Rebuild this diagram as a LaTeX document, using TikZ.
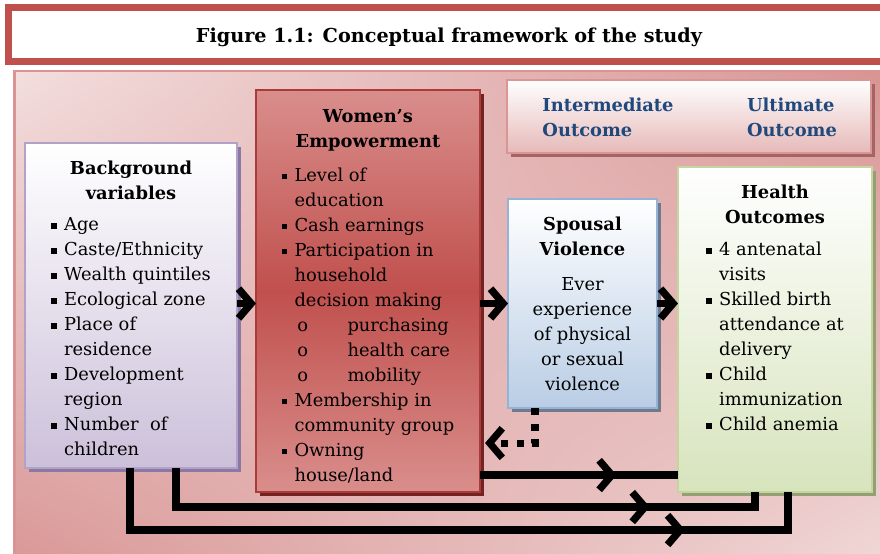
\documentclass[tikz,border=0pt]{standalone}
\usepackage{fontspec}
\setmainfont{DejaVu Serif}
\usetikzlibrary{arrows.meta,calc,shadows,shadings,decorations.markings}

\definecolor{frame}{RGB}{192,80,77}
\definecolor{panellight}{RGB}{243,222,222}
\definecolor{paneldark}{RGB}{215,146,145}
\definecolor{panelline}{RGB}{218,148,148}
\definecolor{bgbot}{RGB}{204,192,218}
\definecolor{bgline}{RGB}{178,162,199}
\definecolor{bgshadow}{RGB}{140,120,165}
\definecolor{wetop}{RGB}{217,142,140}
\definecolor{wemid}{RGB}{192,80,77}
\definecolor{weline}{RGB}{172,58,56}
\definecolor{weshadow}{RGB}{115,35,35}
\definecolor{svbot}{RGB}{185,205,229}
\definecolor{svline}{RGB}{149,179,215}
\definecolor{svshadow}{RGB}{112,122,142}
\definecolor{hobot}{RGB}{215,228,189}
\definecolor{holine}{RGB}{195,214,155}
\definecolor{hoshadow}{RGB}{150,158,118}
\definecolor{hdrbot}{RGB}{230,185,184}
\definecolor{hdrline}{RGB}{217,150,148}
\definecolor{hdrshadow}{RGB}{165,100,100}
\definecolor{navy}{RGB}{31,73,125}

% square bullet, sub item and top padding
\newcommand{\sq}{\makebox[9.2pt][l]{\rule[1.3pt]{4pt}{4pt}}}
\newcommand{\subopt}[1]{\makebox[37.7pt][l]{\hspace{2pt}o}#1}
\newcommand{\toppad}[1]{\rule{0pt}{#1}}

\tikzset{
  chev/.tip={Straight Barb[sharp, length=9pt, width=21pt]},
  box/.style={draw, line width=1pt, inner sep=0pt, outer sep=0pt, align=center,
    font=\fontsize{12.7}{17.78}\selectfont},
  link/.style={line width=5.2pt, -chev},
  midarrow/.style={line width=5.2pt, postaction={decorate},
    decoration={markings, mark=at position #1 with {\arrow{chev}}}},
  dotlink/.style={line width=5pt, dash pattern=on 5pt off 6pt, -chev},
}

\begin{document}
\begin{tikzpicture}[x=0.025cm, y=-0.025cm]
	\useasboundingbox (0,0) rectangle (880,553);
	\fill[white] (0,0) rectangle (880,553);

	% title
	\draw[frame, line width=5pt, fill=white] (8.5,7.5) rectangle (900,61.5);
	\node[font=\fontsize{13.66}{16}\selectfont\bfseries] (title) at (449,37)
		{Figure 1.1: Conceptual framework of the study};

	% panel
	\shade[upper left=panellight, upper right=paneldark, lower left=paneldark,
		lower right=panellight] (14.5,71) rectangle (900,600);
	\draw[panelline, line width=2pt] (14.5,600) -- (14.5,71) -- (900,71);

	% header
	\node[box, minimum width=9.1cm, minimum height=1.825cm, draw=hdrline,
		top color=white, bottom color=hdrbot,
		drop shadow={shadow xshift=3pt, shadow yshift=-3pt, fill=hdrshadow, opacity=1}]
		(hdr) at (689,116.5) {};
	\node[font=\fontsize{12.7}{17.78}\selectfont\bfseries, text=navy, align=left]
		(inter) at (608,117) {Intermediate\\Outcome};
	\node[font=\fontsize{12.7}{17.78}\selectfont\bfseries, text=navy, align=left]
		(ulti) at (792,117) {Ultimate\\Outcome};

	% background variables
	\node[box, minimum width=5.3cm, minimum height=8.125cm, draw=bgline,
		top color=white, bottom color=bgbot,
		drop shadow={shadow xshift=3pt, shadow yshift=-3pt, fill=bgshadow, opacity=1}]
		(bg) at (131,305.5) {\toppad{19pt}\textbf{Background}\\\textbf{variables}\\[4pt]
		\begin{tabular}[t]{@{}l@{}l@{}}
			\sq & Age\\
			\sq & Caste/Ethnicity\\
			\sq & Wealth quintiles\\
			\sq & Ecological zone\\
			\sq & Place of\\
			    & residence\\
			\sq & Development\\
			    & region\\
			\sq & Number\ \ of\\
			    & children
		\end{tabular}};

	% women's empowerment
	\node[box, minimum width=5.6cm, minimum height=10.05cm, draw=weline,
		top color=wetop, bottom color=wetop, middle color=wemid,
		drop shadow={shadow xshift=3pt, shadow yshift=-3pt, fill=weshadow, opacity=1}]
		(we) at (368,291) {\toppad{21pt}\textbf{Women’s}\\\textbf{Empowerment}\\[6pt]
		\begin{tabular}[t]{@{}l@{}l@{}}
			\sq & Level of\\
			    & education\\
			\sq & Cash earnings\\
			\sq & Participation in\\
			    & household\\
			    & decision making\\
			    & \subopt{purchasing}\\
			    & \subopt{health care}\\
			    & \subopt{mobility}\\
			\sq & Membership in\\
			    & community group\\
			\sq & Owning\\
			    & house/land
		\end{tabular}};

	% spousal violence
	\node[box, minimum width=3.725cm, minimum height=5.225cm, draw=svline,
		top color=white, bottom color=svbot,
		drop shadow={shadow xshift=3pt, shadow yshift=-3pt, fill=svshadow, opacity=1}]
		(sv) at (582.5,303.5) {\textbf{Spousal}\\\textbf{Violence}\\[7pt]
		Ever\\experience\\of physical\\or sexual\\violence};

	% health outcomes
	\node[box, minimum width=4.85cm, minimum height=8.125cm, draw=holine,
		top color=white, bottom color=hobot,
		drop shadow={shadow xshift=3pt, shadow yshift=-3pt, fill=hoshadow, opacity=1}]
		(ho) at (775,329.5) {\textbf{Health}\\\textbf{Outcomes}\\[5pt]
		\begin{tabular}[t]{@{}l@{}l@{}}
			\sq & 4 antenatal\\
			    & visits\\
			\sq & Skilled birth\\
			    & attendance at\\
			    & delivery\\
			\sq & Child\\
			    & immunization\\
			\sq & Child anemia\\[8pt]
			    &
		\end{tabular}};

	% direct paths
	\draw[link] (bg.east |- sv.west) -- (we.west |- sv.west);
	\draw[link] (we.east |- sv.west) -- (sv.west);
	\draw[link] (sv.east) -- (ho.west |- sv.east);

	% feedback from violence
	\coordinate (d1) at ($(sv.south west)+(27,0)$);
	\coordinate (d2) at ($(we.south east)+(5,-49)$);
	\draw[dotlink] (d1) |- (d2);

	% paths to health outcomes
	\coordinate (w1) at ($(we.south east)+(0,-17)$);
	\draw[midarrow=0.69] (w1) -- (w1 -| ho.west);
	\coordinate (b1) at ($(bg.south)+(45,0)$);
	\coordinate (h1) at ($(ho.south)+(-20,0)$);
	\draw[midarrow=0.81] (b1) -- ++(0,39) -| (h1);
	\coordinate (b2) at ($(bg.south)+(-1,0)$);
	\coordinate (h2) at ($(ho.south)+(13,0)$);
	\draw[midarrow=0.814] (b2) -- ++(0,62) -| (h2);
\end{tikzpicture}
\end{document}
